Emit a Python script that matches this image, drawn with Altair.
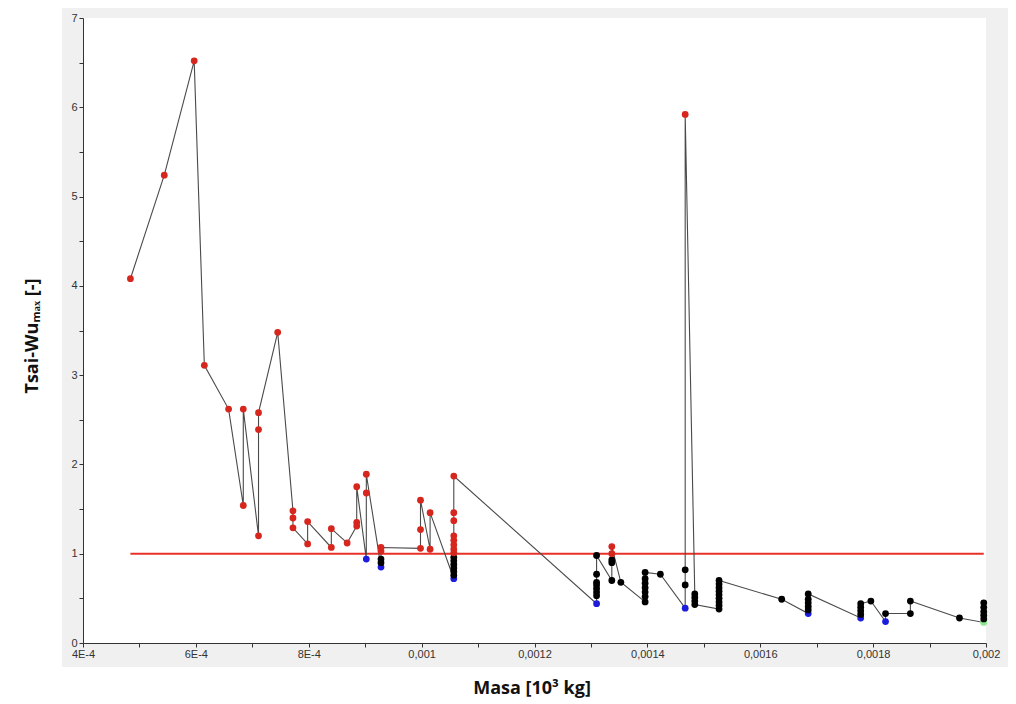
import altair as alt
import pandas as pd

# ---- data (in drawing order of the path) ----
mass = [
    0.000484, 0.000544, 0.000597, 0.000615, 0.000658,
    0.000684, 0.000684,
    0.000711, 0.000711, 0.000711,
    0.000745,
    0.000772, 0.000772, 0.000772,
    0.000798, 0.000798,
    0.000840, 0.000840,
    0.000868,
    0.000885, 0.000885, 0.000885,
    0.000902, 0.000902, 0.000902,
    0.000928, 0.000928, 0.000928, 0.000928, 0.000928,
    0.000998, 0.000998, 0.000998,
    0.001015, 0.001015,
    0.001057, 0.001057, 0.001057, 0.001057, 0.001057, 0.001057, 0.001057,
    0.001057, 0.001057, 0.001057, 0.001057, 0.001057, 0.001057, 0.001057, 0.001057,
    0.001310, 0.001310, 0.001310, 0.001310, 0.001310, 0.001310, 0.001310, 0.001310,
    0.001337, 0.001337, 0.001337, 0.001337, 0.001337,
    0.001353,
    0.001396, 0.001396, 0.001396, 0.001396, 0.001396, 0.001396, 0.001396,
    0.001423,
    0.001467, 0.001467, 0.001467, 0.001467,
    0.001484, 0.001484, 0.001484, 0.001484,
    0.001527, 0.001527, 0.001527, 0.001527, 0.001527, 0.001527, 0.001527, 0.001527, 0.001527,
    0.001638,
    0.001685, 0.001685, 0.001685, 0.001685, 0.001685, 0.001685,
    0.001778, 0.001778, 0.001778, 0.001778, 0.001778,
    0.001796,
    0.001822, 0.001822,
    0.001866, 0.001866,
    0.001953,
    0.001996, 0.001996, 0.001996, 0.001996, 0.001996, 0.001996,
]
tsai = [
    4.08, 5.24, 6.52, 3.11, 2.62,
    1.54, 2.62,
    1.20, 2.39, 2.58,
    3.48,
    1.48, 1.40, 1.29,
    1.11, 1.36,
    1.07, 1.28,
    1.12,
    1.31, 1.35, 1.75,
    0.94, 1.68, 1.89,
    0.85, 0.90, 0.94, 1.03, 1.07,
    1.06, 1.27, 1.60,
    1.05, 1.46,
    0.72, 0.76, 0.80, 0.84, 0.88, 0.92, 0.96,
    1.01, 1.05, 1.10, 1.15, 1.20, 1.37, 1.46, 1.87,
    0.44, 0.53, 0.57, 0.61, 0.65, 0.68, 0.77, 0.98,
    0.70, 0.90, 0.93, 1.00, 1.08,
    0.68,
    0.46, 0.52, 0.57, 0.62, 0.67, 0.72, 0.79,
    0.77,
    0.39, 0.65, 0.82, 5.92,
    0.55, 0.51, 0.47, 0.43,
    0.38, 0.42, 0.46, 0.50, 0.54, 0.58, 0.62, 0.66, 0.70,
    0.49,
    0.33, 0.37, 0.41, 0.45, 0.49, 0.55,
    0.28, 0.32, 0.36, 0.40, 0.44,
    0.47,
    0.24, 0.33,
    0.33, 0.47,
    0.28,
    0.23, 0.27, 0.31, 0.35, 0.40, 0.45,
]
# status of each design: "R" Tsai-Wu > 1, "K" feasible, "B" group minimum, "G" optimum
status = [
    "R", "R", "R", "R", "R",
    "R", "R",
    "R", "R", "R",
    "R",
    "R", "R", "R",
    "R", "R",
    "R", "R",
    "R",
    "R", "R", "R",
    "B", "R", "R",
    "B", "K", "K", "R", "R",
    "R", "R", "R",
    "R", "R",
    "B", "K", "K", "K", "K", "K", "K",
    "R", "R", "R", "R", "R", "R", "R", "R",
    "B", "K", "K", "K", "K", "K", "K", "K",
    "K", "K", "K", "R", "R",
    "K",
    "K", "K", "K", "K", "K", "K", "K",
    "K",
    "B", "K", "K", "R",
    "K", "K", "K", "K",
    "K", "K", "K", "K", "K", "K", "K", "K", "K",
    "K",
    "B", "K", "K", "K", "K", "K",
    "B", "K", "K", "K", "K",
    "K",
    "B", "K",
    "K", "K",
    "K",
    "G", "K", "K", "K", "K", "K",
]
status_codes = ["R", "K", "B", "G"]
status_colors = ["#d6261d", "#000000", "#1c1cdc", "#8fe88f"]

threshold = 1.0
threshold_mass = [0.000484, 0.001996]

x_ticks = [0.0004 + i * 0.0001 for i in range(17)]
x_tick_labels = ["4E-4", "", "6E-4", "", "8E-4", "", "0,001", "", "0,0012", "",
                 "0,0014", "", "0,0016", "", "0,0018", "", "0,002"]
y_ticks = [i * 0.5 for i in range(15)]
y_tick_labels = ["0", "", "1", "", "2", "", "3", "", "4", "", "5", "", "6", "", "7"]

# ---- tables ----
df = pd.DataFrame({"mass": mass, "tsai": tsai, "status": status,
                   "order": list(range(len(mass)))})
ref = pd.DataFrame({"mass": threshold_mass, "tsai": [threshold, threshold]})

W, H = 903, 625

def arr_expr(labels):
    return "[" + ",".join("'" + s + "'" for s in labels) + "]"

x_label_expr = arr_expr(x_tick_labels) + "[round((datum.value-0.0004)/0.0001)]"
y_label_expr = arr_expr(y_tick_labels) + "[round(datum.value/0.5)]"

x_scale = alt.Scale(domain=[0.0004, 0.002], nice=False, zero=False)
y_scale = alt.Scale(domain=[0, 7], nice=False)

label_font = "Liberation Sans"
title_font = "Open Sans"

x_axis = alt.Axis(values=x_ticks, labelExpr=x_label_expr, grid=False,
                  title="Masa [10³ kg]", titleFont=title_font, titleFontSize=18,
                  titleFontWeight="bold", titleColor="#111",
                  titleY=45, titleX=W / 2 - 3, titleBaseline="middle",
                  labelFont=label_font, labelFontSize=11, labelColor="#333",
                  labelPadding=1, tickSize=4, tickColor="#333",
                  domainColor="#333", labelFlush=False, labelOverlap=False,
                  zindex=1)
y_axis = alt.Axis(values=y_ticks, labelExpr=y_label_expr, grid=False,
                  title="Tsai-Wuₘₐₓ [-]", titleFont=title_font, titleFontSize=18,
                  titleFontWeight="bold", titleColor="#111",
                  titleX=-51, titleY=H / 2 + 5, titleAngle=-90,
                  titleBaseline="middle", titleAlign="center",
                  labelFont=label_font, labelFontSize=11, labelColor="#333",
                  labelPadding=2, tickSize=4, tickColor="#333",
                  domainColor="#333", labelFlush=False, labelOverlap=False,
                  zindex=1)

# decorative panel background (grey frame + white plotting area)
frame = alt.Chart(pd.DataFrame({"k": [0]})).mark_rect(color="#f0f0f0").encode(
    x=alt.value(-21), x2=alt.value(W + 30), y=alt.value(-10), y2=alt.value(H + 24))
inner = alt.Chart(pd.DataFrame({"k": [0]})).mark_rect(color="#ffffff").encode(
    x=alt.value(0), x2=alt.value(W), y=alt.value(0), y2=alt.value(H))

path = alt.Chart(df).mark_line(color="#4a4a4a", strokeWidth=1.1).encode(
    x=alt.X("mass:Q", scale=x_scale, axis=x_axis),
    y=alt.Y("tsai:Q", scale=y_scale, axis=y_axis),
    order="order:Q",
)
limit = alt.Chart(ref).mark_line(color="#e8302a", strokeWidth=2).encode(
    x=alt.X("mass:Q", scale=x_scale),
    y=alt.Y("tsai:Q", scale=y_scale),
)
points = alt.Chart(df).mark_point(filled=True, opacity=1, size=46, shape="circle").encode(
    x=alt.X("mass:Q", scale=x_scale),
    y=alt.Y("tsai:Q", scale=y_scale),
    color=alt.Color("status:N", scale=alt.Scale(domain=status_codes, range=status_colors),
                    legend=None),
    order="order:Q",
)

chart = alt.layer(frame, inner, limit, path, points).properties(
    width=W, height=H,
    padding={"left": 75, "top": 10, "right": 22, "bottom": 66},
    autosize=alt.AutoSizeParams(type="none"),
    background="#ffffff",
).configure_view(stroke=None, fill="#ffffff")

chart.save("out.html", embed_options={"renderer": "svg", "actions": False})
